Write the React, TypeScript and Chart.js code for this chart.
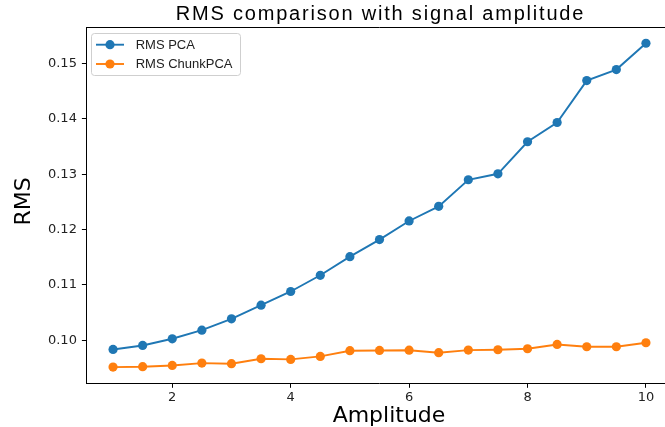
import { useEffect, useRef } from "react";
import { Chart, registerables } from "chart.js";

Chart.register(...registerables);

const amplitudes = [1, 1.5, 2, 2.5, 3, 3.5, 4, 4.5, 5, 5.5, 6, 6.5, 7, 7.5, 8, 8.5, 9, 9.5, 10];
const rmsPCA = [
  0.09832, 0.09904, 0.10025, 0.1018, 0.10386, 0.10632, 0.1088, 0.11173, 0.1151, 0.11818,
  0.12155, 0.12419, 0.129, 0.13008, 0.13587, 0.13935, 0.14693, 0.14892, 0.15368,
];
const rmsChunkPCA = [
  0.09513, 0.0952, 0.09543, 0.09585, 0.09574, 0.09664, 0.09652, 0.09706, 0.09809, 0.09814,
  0.09818, 0.09773, 0.0982, 0.09827, 0.09845, 0.09922, 0.09881, 0.09881, 0.09953,
];
const xTickValues = [2, 4, 6, 8, 10];
const yTickValues = [0.1, 0.11, 0.12, 0.13, 0.14, 0.15];
const seriesLabels = ["RMS PCA", "RMS ChunkPCA"];
const seriesColors = ["#1f77b4", "#ff7f0e"];
const titleText = "RMS comparison with signal amplitude";
const xLabelText = "Amplitude";
const yLabelText = "RMS";

const textPlugin = {
  id: "mplText",
  afterDraw(chart: any) {
    const ctx = chart.ctx as CanvasRenderingContext2D;
    const a = chart.chartArea;
    ctx.save();
    // top and right spines
    ctx.strokeStyle = "#000";
    ctx.lineWidth = 1;
    ctx.beginPath();
    const ty = Math.round(a.top) + 0.5;
    ctx.moveTo(a.left, ty);
    ctx.lineTo(a.right, ty);
    const rx = Math.round(a.right) + 0.5;
    ctx.moveTo(rx, a.top);
    ctx.lineTo(rx, a.bottom);
    ctx.stroke();

    // title
    const cx = (a.left + a.right) / 2;
    ctx.fillStyle = "#000";
    ctx.font = "20px 'Liberation Sans'";
    (ctx as any).letterSpacing = "1.8px";
    ctx.textAlign = "center";
    ctx.textBaseline = "alphabetic";
    ctx.fillText(titleText, cx + 1, 19.5);
    (ctx as any).letterSpacing = "0px";

    // x label
    ctx.font = "22px 'DejaVu Sans'";
    ctx.fillStyle = "#000";
    ctx.fillText(xLabelText, 389, 421.5);

    // y label
    ctx.save();
    ctx.translate(30, 201.5);
    ctx.rotate(-Math.PI / 2);
    ctx.fillText(yLabelText, 0, 0);
    ctx.restore();

    // legend
    const bx = 91.5, by = 33.5, bw = 149, bh = 42, r = 3;
    ctx.beginPath();
    ctx.moveTo(bx + r, by);
    ctx.lineTo(bx + bw - r, by);
    ctx.arcTo(bx + bw, by, bx + bw, by + r, r);
    ctx.lineTo(bx + bw, by + bh - r);
    ctx.arcTo(bx + bw, by + bh, bx + bw - r, by + bh, r);
    ctx.lineTo(bx + r, by + bh);
    ctx.arcTo(bx, by + bh, bx, by + bh - r, r);
    ctx.lineTo(bx, by + r);
    ctx.arcTo(bx, by, bx + r, by, r);
    ctx.closePath();
    ctx.fillStyle = "rgba(255,255,255,0.8)";
    ctx.fill();
    ctx.strokeStyle = "#cfcfcf";
    ctx.lineWidth = 1;
    ctx.stroke();

    const rows = [44.7, 64];
    chart.data.datasets.forEach((ds: any, i: number) => {
      const y = rows[i];
      ctx.strokeStyle = ds.borderColor;
      ctx.lineWidth = 1.9;
      ctx.beginPath();
      ctx.moveTo(96, y);
      ctx.lineTo(124, y);
      ctx.stroke();
      ctx.fillStyle = ds.borderColor;
      ctx.beginPath();
      ctx.arc(110, y, 4.6, 0, Math.PI * 2);
      ctx.fill();
      ctx.fillStyle = "#222";
      ctx.font = "13px 'Liberation Sans'";
      ctx.textAlign = "left";
      ctx.textBaseline = "middle";
      ctx.fillText(ds.label, 135.7, y + 0.5);
    });
    ctx.restore();
  },
};

export default function App() {
  const ref = useRef<HTMLCanvasElement | null>(null);
  useEffect(() => {
    if (!ref.current) return;
    const mk = (vals: number[]) => amplitudes.map((x, i) => ({ x, y: vals[i] }));
    const mkDs = (i: number, vals: number[]) => ({
      label: seriesLabels[i],
      data: mk(vals),
      borderColor: seriesColors[i],
      backgroundColor: seriesColors[i],
      pointBackgroundColor: seriesColors[i],
      borderWidth: 1.9,
      pointRadius: 4.6,
      pointHoverRadius: 4.6,
      pointBorderWidth: 0,
      tension: 0,
    });
    const chart = new Chart(ref.current, {
      type: "line",
      data: {
        datasets: [mkDs(0, rmsPCA), mkDs(1, rmsChunkPCA)],
      },
      options: {
        animation: false,
        responsive: false,
        devicePixelRatio: 1,
        layout: { padding: { top: 27.1, right: 7.4, left: 0, bottom: 0 } },
        plugins: { legend: { display: false }, title: { display: false }, tooltip: { enabled: false } },
        scales: {
          x: {
            type: "linear",
            min: 0.55,
            max: 10.45,
            afterBuildTicks: (s: any) => {
              s.ticks = xTickValues.map((v) => ({ value: v }));
            },
            afterFit: (s: any) => {
              s.height = 43.7;
            },
            grid: { display: true, drawOnChartArea: false, drawTicks: true, tickLength: 4.5, color: "#000" },
            border: { display: true, color: "#000", width: 1 },
            ticks: {
              autoSkip: false,
              maxRotation: 0,
              padding: 2.5,
              color: "#222",
              font: { family: "'DejaVu Sans'", size: 13 },
              callback: (v: any) => String(v),
            },
          },
          y: {
            type: "linear",
            min: 0.0922,
            max: 0.1566,
            afterBuildTicks: (s: any) => {
              s.ticks = yTickValues.map((v) => ({ value: v }));
            },
            afterFit: (s: any) => {
              s.width = 86.4;
            },
            grid: { display: true, drawOnChartArea: false, drawTicks: true, tickLength: 4.5, color: "#000" },
            border: { display: true, color: "#000", width: 1 },
            ticks: {
              autoSkip: false,
              padding: 5,
              color: "#222",
              font: { family: "'DejaVu Sans'", size: 13 },
              callback: (v: any) => Number(v).toFixed(2),
            },
          },
        },
      },
      plugins: [textPlugin],
    });
    return () => chart.destroy();
  }, []);
  return (
    <div style={{ position: "fixed", left: 0, top: 0, width: 665, height: 427, overflow: "hidden", background: "#fff" }}>
      <canvas ref={ref} width={680} height={427} style={{ display: "block", width: 680, height: 427 }} />
    </div>
  );
}
